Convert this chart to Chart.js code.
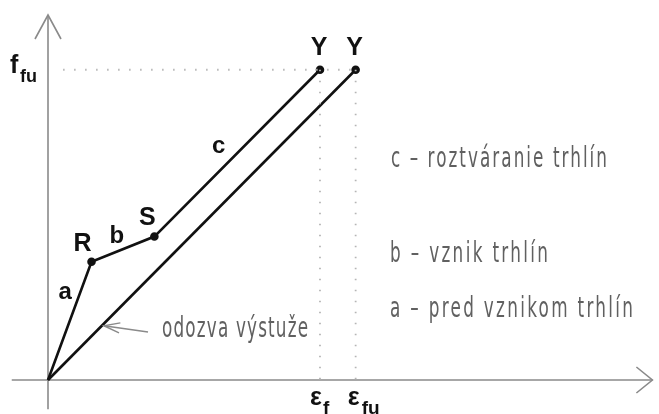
<!DOCTYPE html>
<html>
<head>
<meta charset="utf-8">
<script src="https://cdn.jsdelivr.net/npm/chart.js@4/dist/chart.umd.min.js"></script>
<style>
    html, body { margin: 0; padding: 0; background: #ffffff; }
    canvas { display: block; }
</style>
</head>
<body>
<canvas id="diagram" width="659" height="414"></canvas>
<script>
// ── Pracovný diagram: betón s výstužou vs. samotná výstuž ──

// priebeh R - S - Y (pretvorenie / napätie)
const epsKrivka   = [0, 7.2, 17.6, 45.0];
const sigmaKrivka = [0, 32.4, 39.3, 85.0];
const bodyKrivka  = ['', 'R', 'S', 'Y'];
const useky       = ['a', 'b', 'c'];

// odozva výstuže
const epsVystuz   = [0, 50.9];
const sigmaVystuz = [0, 85.0];
const bodyVystuz  = ['', 'Y'];

// medzné hodnoty
const epsF   = 45.0;
const epsFu  = 50.9;
const fFu    = 85.0;

// rozsah osí
const osX = [-6, 100];
const osY = [-8, 100];

const popisy = [
    'c \u2013 roztváranie trhlín',
    'b \u2013 vznik trhlín',
    'a \u2013 pred vznikom trhlín'
];
const popisVystuze = 'odozva výstuže';

const CIERNA = '#111111';
const SIVA   = '#8a8a8a';
const TEXT   = '#606060';

const body = (xs, ys) => xs.map((x, i) => ({ x: x, y: ys[i] }));

// úzke písmo s riedkym prestrkaním, roztiahnuté na danú šírku
function uzkyText(ctx, text, x, y, sirka) {
    const mierka = 0.58;
    ctx.save();
    ctx.letterSpacing = '0px';
    const w = ctx.measureText(text).width;
    const medzera = (sirka / mierka - w) / (text.length - 1);
    ctx.letterSpacing = medzera.toFixed(2) + 'px';
    ctx.translate(x, y);
    ctx.scale(mierka, 1);
    ctx.fillText(text, 0, 0);
    ctx.restore();
}

function sipka(ctx, hx, hy, dx, dy, dlzka, polsirka) {
    // hrot v (hx,hy), smer (dx,dy) jednotkový
    const px = -dy, py = dx;
    ctx.beginPath();
    ctx.moveTo(hx - dx * dlzka + px * polsirka, hy - dy * dlzka + py * polsirka);
    ctx.lineTo(hx, hy);
    ctx.lineTo(hx - dx * dlzka - px * polsirka, hy - dy * dlzka - py * polsirka);
    ctx.stroke();
}

const osiPlugin = {
    id: 'osi',
    beforeDatasetsDraw(chart) {
        const ctx = chart.ctx;
        const sx = chart.scales.x, sy = chart.scales.y;
        const x0 = sx.getPixelForValue(0), y0 = sy.getPixelForValue(0);
        const xMin = sx.getPixelForValue(osX[0]), xMax = sx.getPixelForValue(osX[1]);
        const yMin = sy.getPixelForValue(osY[0]), yMax = sy.getPixelForValue(osY[1]);

        ctx.save();
        ctx.strokeStyle = SIVA;
        ctx.lineWidth = 1.6;
        ctx.beginPath();
        ctx.moveTo(xMin, y0); ctx.lineTo(xMax, y0);
        ctx.moveTo(x0, yMin); ctx.lineTo(x0, yMax);
        ctx.stroke();
        sipka(ctx, xMax, y0, 1, 0, 16, 13);
        sipka(ctx, x0, yMax, 0, -1, 24, 13);
        ctx.restore();
    },
    afterDatasetsDraw(chart) {
        const ctx = chart.ctx;
        const sx = chart.scales.x, sy = chart.scales.y;
        const px = v => sx.getPixelForValue(v);
        const py = v => sy.getPixelForValue(v);

        ctx.save();
        ctx.fillStyle = CIERNA;
        ctx.textAlign = 'center';
        ctx.textBaseline = 'middle';
        ctx.font = 'bold 25px "Liberation Sans", Arial, sans-serif';

        // názvy bodov
        const posunBodu = { R: [-9, -18], S: [-7, -18], Y: [-1, -22] };
        epsKrivka.forEach((e, i) => {
            const n = bodyKrivka[i];
            if (!n) return;
            ctx.fillText(n, px(e) + posunBodu[n][0], py(sigmaKrivka[i]) + posunBodu[n][1]);
        });
        epsVystuz.forEach((e, i) => {
            const n = bodyVystuz[i];
            if (!n) return;
            ctx.fillText(n, px(e) + posunBodu[n][0], py(sigmaVystuz[i]) + posunBodu[n][1]);
        });

        // označenie úsekov a, b, c
        ctx.font = 'bold 24px "Liberation Sans", Arial, sans-serif';
        const polohaUseku = [[0.74, -15, 0], [0.42, -1, -15], [0.4, -2, -23]];
        useky.forEach((u, i) => {
            const [t, ox, oy] = polohaUseku[i];
            const xa = px(epsKrivka[i]), ya = py(sigmaKrivka[i]);
            const xb = px(epsKrivka[i + 1]), yb = py(sigmaKrivka[i + 1]);
            ctx.fillText(u, xa + (xb - xa) * t + ox, ya + (yb - ya) * t + oy);
        });

        // f_fu na zvislej osi
        ctx.textAlign = 'left';
        ctx.textBaseline = 'alphabetic';
        const yf = py(fFu);
        ctx.font = 'bold 25px "Liberation Sans", Arial, sans-serif';
        ctx.fillText('f', 10, yf + 3);
        ctx.font = 'bold 18px "Liberation Sans", Arial, sans-serif';
        ctx.fillText('fu', 20, yf + 12);

        // ε_f a ε_fu pod vodorovnou osou
        const yE = py(0) + 25;
        ctx.font = 'bold 25px "Liberation Sans", Arial, sans-serif';
        ctx.fillText('\u03b5', px(epsF) - 10, yE);
        ctx.fillText('\u03b5', px(epsFu) - 8, yE);
        ctx.font = 'bold 19px "Liberation Sans", Arial, sans-serif';
        ctx.fillText('f', px(epsF) + 3, yE + 9);
        ctx.fillText('fu', px(epsFu) + 6, yE + 9);

        // legenda úsekov
        ctx.fillStyle = TEXT;
        ctx.font = '29px "DejaVu Sans", sans-serif';
        uzkyText(ctx, popisy[0], 391, 167, 216);
        uzkyText(ctx, popisy[1], 390, 262, 158);
        uzkyText(ctx, popisy[2], 390, 317, 243);

        // odozva výstuže + šípka na priamku výstuže
        uzkyText(ctx, popisVystuze, 162, 337, 146);
        const t = 0.175;
        const hx = px(epsVystuz[0]) + (px(epsVystuz[1]) - px(epsVystuz[0])) * t;
        const hy = py(sigmaVystuz[0]) + (py(sigmaVystuz[1]) - py(sigmaVystuz[0])) * t;
        ctx.strokeStyle = SIVA;
        ctx.lineWidth = 1.4;
        ctx.beginPath();
        ctx.moveTo(148, 332);
        ctx.lineTo(hx + 2, hy);
        ctx.stroke();
        const d = Math.hypot(hx - 148, hy - 332);
        sipka(ctx, hx + 2, hy, (hx - 148) / d, (hy - 332) / d, 16, 5);
        ctx.restore();
    }
};

const bodkovane = {
    showLine: true,
    borderColor: '#b5b5b5',
    borderWidth: 1.8,
    borderDash: [1.5, 9.5],
    pointRadius: 0,
    clip: false
};

new Chart(document.getElementById('diagram'), {
    type: 'scatter',
    data: {
        datasets: [
            { ...bodkovane, data: body([2.5, epsFu], [fFu, fFu]) },
            { ...bodkovane, data: body([epsF, epsF], [fFu, 0]) },
            { ...bodkovane, data: body([epsFu, epsFu], [fFu, 0]) },
            {
                data: body(epsKrivka, sigmaKrivka),
                showLine: true,
                borderColor: CIERNA,
                borderWidth: 2.6,
                pointRadius: bodyKrivka.map(n => n ? 3 : 0),
                pointBackgroundColor: CIERNA,
                pointBorderColor: CIERNA,
                clip: false
            },
            {
                data: body(epsVystuz, sigmaVystuz),
                showLine: true,
                borderColor: CIERNA,
                borderWidth: 2.6,
                pointRadius: bodyVystuz.map(n => n ? 3 : 0),
                pointBackgroundColor: CIERNA,
                pointBorderColor: CIERNA,
                clip: false
            }
        ]
    },
    options: {
        responsive: false,
        animation: false,
        layout: { padding: { left: 48, right: 3, top: 15, bottom: 34 } },
        scales: {
            x: { type: 'linear', display: false, min: 0, max: osX[1] },
            y: { type: 'linear', display: false, min: 0, max: osY[1] }
        },
        plugins: {
            legend: { display: false },
            tooltip: { enabled: false }
        }
    },
    plugins: [osiPlugin]
});
</script>
</body>
</html>
